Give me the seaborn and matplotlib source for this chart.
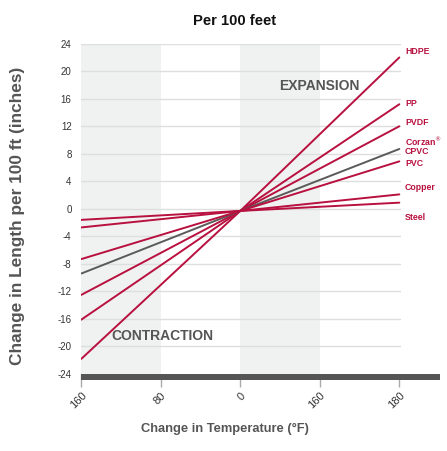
import matplotlib
matplotlib.use("Agg")
import matplotlib.pyplot as plt
from matplotlib.patches import Rectangle
import seaborn as sns
import pandas as pd

sns.set_style("white")
plt.rcParams['font.family'] = ['Liberation Sans', 'DejaVu Sans']

# Data
tick_labels = ["160", "80", "0", "160", "180"]
materials = ["HDPE", "PP", "PVDF", "CPVC", "PVC", "Copper", "Steel"]
left_vals = [-21.8, -16.1, -12.5, -9.4, -7.3, -2.7, -1.6]
center_vals = [-0.3, -0.3, -0.3, -0.3, -0.3, -0.3, -0.3]
right_vals = [22.0, 15.2, 12.0, 8.7, 6.9, 2.1, 0.9]
label_texts = ["HDPE", "PP", "PVDF", "Corzan$^{®}$", "CPVC", "PVC", "Copper", "Steel"]
label_y = [22.8, 15.3, 12.6, 9.8, 8.4, 6.6, 3.1, -1.3]

RED = "#b8103f"
GRAY = "#5a5a5a"
palette = {m: (GRAY if m == "CPVC" else RED) for m in materials}

rows = []
for m, l, c, r in zip(materials, left_vals, center_vals, right_vals):
    rows += [(m, 0, l), (m, 2, c), (m, 4, r)]
df = pd.DataFrame(rows, columns=["material", "x", "value"])

fig = plt.figure(figsize=(4.47, 4.51), dpi=100)
ax = fig.add_axes([81.3 / 447, 1 - 374 / 451, 320 / 447, (374 - 43.7) / 451])

ax.axvspan(0, 1, color="#f0f1f1", lw=0, zorder=0)
ax.axvspan(2, 3, color="#f0f1f1", lw=0, zorder=0)
for yv in range(-20, 25, 4):
    ax.axhline(yv, color="#dedede", lw=1.0, zorder=0.5)

sns.lineplot(data=df, x="x", y="value", hue="material", palette=palette,
             hue_order=materials, linewidth=1.4, legend=False, ax=ax, zorder=3)

ax.set_xlim(0, 4.025)
ax.set_ylim(-24, 24)
ax.set_yticks(range(-24, 25, 4))
ax.set_yticklabels([str(v) for v in range(-24, 25, 4)])
ax.set_xticks(range(5))
ax.set_xticklabels(tick_labels, rotation=45, ha="right", rotation_mode="anchor")
ax.tick_params(axis="y", left=False, length=0, pad=7, labelsize=7, labelcolor="#333333")
ax.tick_params(axis="x", bottom=True, length=9, width=1.0, color="#aaaaaa", direction="out",
               pad=3, labelsize=8, labelcolor="#333333")
for s in ax.spines.values():
    s.set_visible(False)
ax.grid(False)

# thick baseline bar
bar = Rectangle((0, -24.9), (440 - 81.3) / 320, 0.9, transform=ax.get_yaxis_transform(),
                color="#555555", clip_on=False, zorder=6, lw=0)
ax.add_patch(bar)

for t, yv in zip(label_texts, label_y):
    ax.text(4.07, yv, t, color=RED, fontsize=6.3, fontweight="bold",
            va="center", ha="left", clip_on=False)

ax.text(3.0, 17.8, "EXPANSION", color="#555555", fontsize=10, fontweight="bold",
        ha="center", va="center")
ax.text(1.02, -18.5, "CONTRACTION", color="#555555", fontsize=10, fontweight="bold",
        ha="center", va="center")

fig.text(235 / 447, 1 - 20.7 / 451, "Per 100 feet", fontsize=10.6, fontweight="bold",
         color="#111111", ha="center", va="center")
ax.set_ylabel("Change in Length per 100 ft (inches)", fontsize=12.4, fontweight="bold",
              color="#555555")
ax.yaxis.set_label_coords(-56 / 320, (374 - 216) / 330.3)
ax.set_xlabel("Change in Temperature (°F)", fontsize=9.3, fontweight="bold", color="#555555")
ax.xaxis.set_label_coords((225 - 81.3) / 320, -(423 - 374) / 330.3)

fig.savefig("out.png", dpi=100)
